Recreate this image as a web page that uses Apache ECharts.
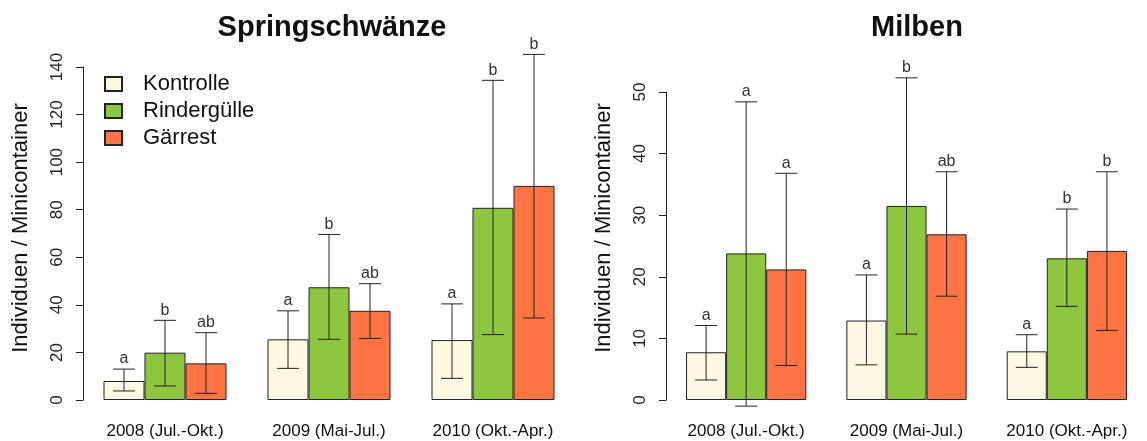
<!DOCTYPE html>
<html>
<head>
<meta charset="utf-8">
<script src="https://cdn.jsdelivr.net/npm/echarts@6/dist/echarts.min.js"></script>
<style>
  html, body { margin: 0; padding: 0; background: #fff; }
  #chart { width: 1147px; height: 441px; }
</style>
</head>
<body>
<div id="chart"></div>
<script>
// Sampling periods and treatments
const categories = ['2008 (Jul.-Okt.)', '2009 (Mai-Jul.)', '2010 (Okt.-Apr.)'];
const treatments = ['Kontrolle', 'Rindergülle', 'Gärrest'];
const colors = ['#FDF8E0', '#8DC63F', '#FF7442'];

// Springschwänze: means, error-bar limits and significance letters per treatment
const springKontrolle = [8.0, 25.5, 25.2];
const springRinder = [19.9, 47.4, 80.8];
const springGaerrest = [15.4, 37.5, 90.0];
const springLow = [[3.8, 13.3, 9.1], [5.9, 25.5, 27.5], [2.8, 25.9, 34.5]];
const springHigh = [[13.0, 37.5, 40.4], [33.5, 69.6, 134.4], [28.3, 48.9, 145.3]];
const springLetters = [['a', 'a', 'a'], ['b', 'b', 'b'], ['ab', 'ab', 'b']];
const springTicks = { min: 0, max: 140, interval: 20 };

// Milben
const milbenKontrolle = [7.75, 12.9, 7.9];
const milbenRinder = [23.8, 31.5, 23.0];
const milbenGaerrest = [21.2, 26.9, 24.2];
const milbenLow = [[3.25, 5.7, 5.3], [-1.0, 10.7, 15.2], [5.6, 16.85, 11.3]];
const milbenHigh = [[12.1, 20.3, 10.6], [48.4, 52.3, 31.0], [36.8, 37.05, 37.05]];
const milbenLetters = [['a', 'a', 'a'], ['a', 'b', 'b'], ['a', 'ab', 'b']];
const milbenTicks = { min: 0, max: 50, interval: 10 };

const FONT = '"Liberation Sans", Arial, sans-serif';

function yAxisFor(gridIndex, ticks) {
  return {
    gridIndex: gridIndex, type: 'value',
    min: ticks.min, max: ticks.max, interval: ticks.interval,
    splitLine: { show: false },
    axisLine: { show: true, lineStyle: { color: '#222', width: 1 } },
    axisTick: { show: true, length: 7, lineStyle: { color: '#222' } },
    axisLabel: { rotate: 90, margin: 17, fontSize: 17, color: '#222', fontFamily: FONT }
  };
}

function xAxisFor(gridIndex) {
  return {
    gridIndex: gridIndex, type: 'category', data: categories,
    axisLine: { show: false }, axisTick: { show: false },
    axisLabel: { margin: 23, fontSize: 17, color: '#111', fontFamily: FONT }
  };
}

function barSeries(idx, name, values, t) {
  return {
    type: 'bar', name: name, xAxisIndex: idx, yAxisIndex: idx, z: 2,
    data: values, barGap: '0%', barCategoryGap: '25%',
    itemStyle: { color: colors[t], borderColor: '#222', borderWidth: 1 },
    emphasis: { disabled: true }, animation: false
  };
}

// Error bars with caps and the significance letter above each upper cap
function errorSeries(idx, t, low, high, letters) {
  const data = categories.map((c, i) => [i, low[i], high[i]]);
  return {
    type: 'custom', xAxisIndex: idx, yAxisIndex: idx, data: data, z: 5,
    animation: false, silent: true, clip: false,
    renderItem: function (params, api) {
      const band = api.size([1, 0])[0];
      const barW = band / 4;
      const c = api.coord([api.value(0), api.value(1)]);
      const x = c[0] + (t - 1) * barW;
      const yLow = c[1];
      const yHigh = api.coord([api.value(0), api.value(2)])[1];
      const cap = 11;
      const st = { stroke: '#222', lineWidth: 1 };
      return {
        type: 'group',
        children: [
          { type: 'line', shape: { x1: x, y1: yLow, x2: x, y2: yHigh }, style: st },
          { type: 'line', shape: { x1: x - cap, y1: yHigh, x2: x + cap, y2: yHigh }, style: st },
          { type: 'line', shape: { x1: x - cap, y1: yLow, x2: x + cap, y2: yLow }, style: st },
          { type: 'text', x: x, y: yHigh - 2,
            style: { text: letters[params.dataIndex], fill: '#333', font: '16px ' + FONT,
                     textAlign: 'center', textVerticalAlign: 'bottom' } }
        ]
      };
    }
  };
}

function axisTitle(x, y) {
  return {
    type: 'text', x: x, y: y, rotation: Math.PI / 2,
    style: { text: 'Individuen / Minicontainer', fill: '#111', font: '22px ' + FONT,
             textAlign: 'center', textVerticalAlign: 'middle' }
  };
}

const chart = echarts.init(document.getElementById('chart'), null, { renderer: 'canvas' });

const springMeans = [springKontrolle, springRinder, springGaerrest];
const milbenMeans = [milbenKontrolle, milbenRinder, milbenGaerrest];

const series = [];
treatments.forEach((name, t) => series.push(barSeries(0, name, springMeans[t], t)));
treatments.forEach((name, t) => series.push(barSeries(1, name, milbenMeans[t], t)));
treatments.forEach((name, t) => series.push(errorSeries(0, t, springLow[t], springHigh[t], springLetters[t])));
treatments.forEach((name, t) => series.push(errorSeries(1, t, milbenLow[t], milbenHigh[t], milbenLetters[t])));

chart.setOption({
  backgroundColor: '#fff',
  animation: false,
  title: [
    { text: 'Springschwänze', left: 327, top: 8, textAlign: 'center',
      textStyle: { fontSize: 29, fontWeight: 'bold', color: '#111', fontFamily: FONT } },
    { text: 'Milben', left: 912, top: 8, textAlign: 'center',
      textStyle: { fontSize: 29, fontWeight: 'bold', color: '#111', fontFamily: FONT } }
  ],
  legend: {
    data: treatments, orient: 'vertical', left: 99, top: 68,
    itemWidth: 17, itemHeight: 14, itemGap: 5, icon: 'rect',
    selectedMode: false,
    textStyle: { fontSize: 22, color: '#111', fontFamily: FONT, padding: [0, 0, 0, 16] }
  },
  grid: [
    { left: 83, top: 67, width: 492, height: 333 },
    { left: 666, top: 92, width: 496, height: 308 }
  ],
  xAxis: [xAxisFor(0), xAxisFor(1)],
  yAxis: [yAxisFor(0, springTicks), yAxisFor(1, milbenTicks)],
  graphic: [axisTitle(21, 228), axisTitle(604, 228)],
  series: series
});
</script>
</body>
</html>
